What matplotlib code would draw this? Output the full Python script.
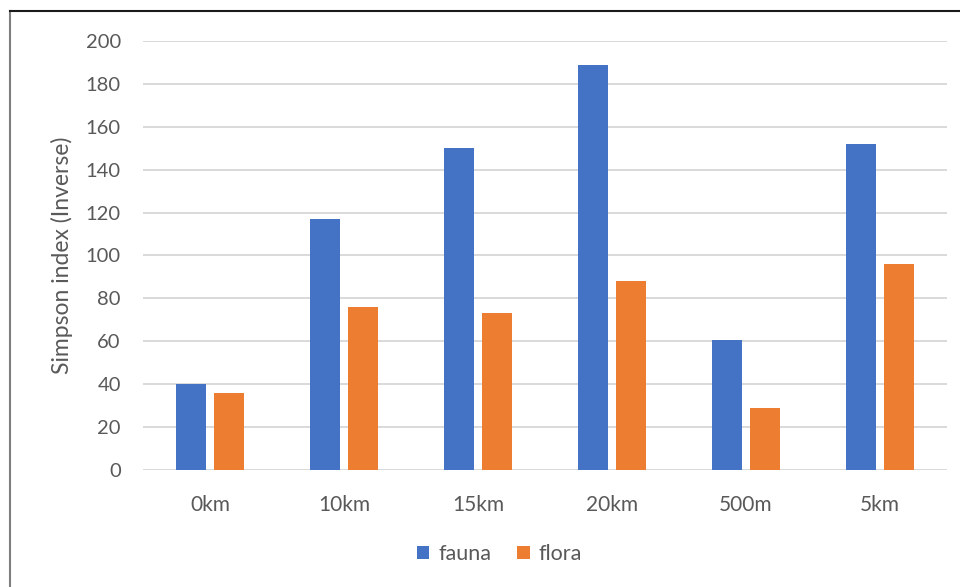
import numpy as np
import matplotlib.pyplot as plt
from matplotlib.lines import Line2D

# Simpson inverse diversity per sampling distance
sites = ['0km', '10km', '15km', '20km', '500m', '5km']
fauna = [40, 117, 150, 189, 60.5, 152]
flora = [36, 76, 73, 88, 29, 96]

plt.rcParams['font.family'] = ['Lato', 'DejaVu Sans']
text_col = '#595959'

fig = plt.figure(figsize=(9.6, 5.87), dpi=100)
ax = fig.add_axes([0.149, 0.2, 0.837, 0.7296])

x = np.arange(len(sites))
w = 0.224
ax.bar(x - 0.142, fauna, w, color='#4472C4', label='fauna', zorder=3)
ax.bar(x + 0.142, flora, w, color='#ED7D31', label='flora', zorder=3)

ax.set_xlim(-0.5, len(sites) - 0.5)
ax.set_ylim(0, 200)
ax.set_yticks(range(0, 201, 20))
ax.set_xticks(x)
ax.set_xticklabels(sites)
ax.tick_params(axis='both', length=0, colors=text_col)
ax.tick_params(axis='x', pad=18, labelsize=15)
ax.tick_params(axis='y', pad=16, labelsize=14.5)
ax.grid(axis='y', color='#d9d9d9', linewidth=1.4, zorder=0)
for s in ax.spines.values():
    s.set_visible(False)

ax.set_ylabel('Simpson index (Inverse)', fontsize=16.5, color=text_col)
ax.yaxis.set_label_coords(-0.087, 0.5)

fig.legend(loc='center', bbox_to_anchor=(0.52, 1 - 554 / 587), ncol=2, frameon=False,
           fontsize=15.5, labelcolor=text_col, handlelength=0.6, handleheight=0.6,
           handletextpad=0.4, columnspacing=1.2)

# chart frame
fig.add_artist(Line2D([10 / 960, 10 / 960], [0, 1 - 11 / 587], color='#7f7f7f', linewidth=1.5))
fig.add_artist(Line2D([10 / 960, 1], [1 - 11 / 587, 1 - 11 / 587], color='#1a1a1a', linewidth=1.5))

fig.savefig('out.png', dpi=100)
